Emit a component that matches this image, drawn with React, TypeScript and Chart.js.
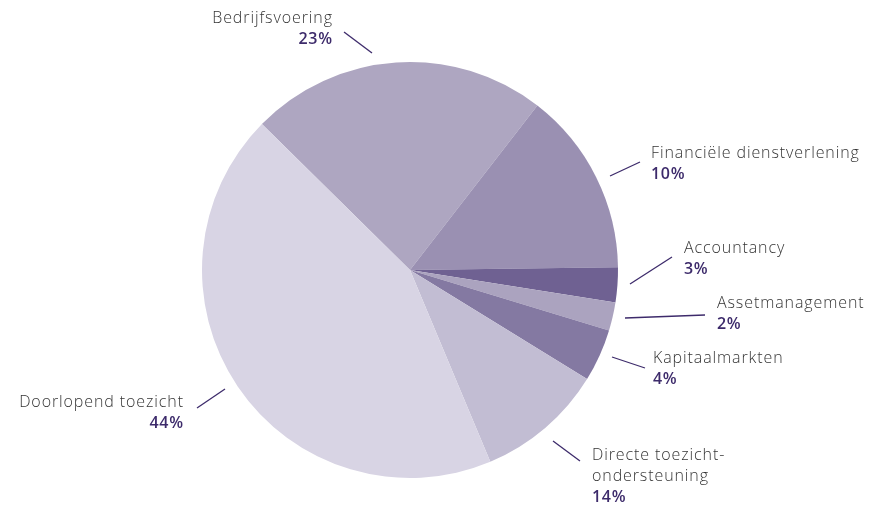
import React, { useEffect, useRef } from "react";
import { Chart, registerables } from "chart.js";

Chart.register(...registerables);

const categories: string[][] = [
  ["Bedrijfsvoering"],
  ["Financiële dienstverlening"],
  ["Accountancy"],
  ["Assetmanagement"],
  ["Kapitaalmarkten"],
  ["Directe toezicht-", "ondersteuning"],
  ["Doorlopend toezicht"],
];
const sliceValues: number[] = [23.1, 14.3, 2.7, 2.2, 4.1, 9.9, 43.7];
const percentLabels: string[] = ["23%", "10%", "3%", "2%", "4%", "14%", "44%"];
const sliceColors: string[] = [
  "#aea6c1",
  "#9a90b2",
  "#6f6192",
  "#aba3bf",
  "#8479a2",
  "#c2bdd3",
  "#d8d4e4",
];

// label layout relative to pie centre (style only)
type LabelLayout = { tx: number; ty: number; align: "left" | "right"; l: [number, number, number, number] };
const labelLayout: LabelLayout[] = [
  { tx: -78, ty: -247, align: "right", l: [-66, -238, -38, -217] },
  { tx: 241, ty: -112, align: "left", l: [200, -94, 230, -108] },
  { tx: 274, ty: -17, align: "left", l: [220, 14, 262, -13] },
  { tx: 307, ty: 38, align: "left", l: [215, 48, 295, 45] },
  { tx: 243, ty: 93, align: "left", l: [202, 87, 235, 98] },
  { tx: 182, ty: 190, align: "left", l: [143, 171, 170, 191] },
  { tx: -227, ty: 137, align: "right", l: [-213, 138, -185, 119] },
];

const labelPlugin = {
  id: "pieLabels",
  afterDraw(chart: any) {
    const meta = chart.getDatasetMeta(0);
    const ctx = chart.ctx as any;
    const lineH = 21;
    meta.data.forEach((arc: any, i: number) => {
      const cx = arc.x;
      const cy = arc.y;
      const lay = labelLayout[i];
      ctx.save();
      ctx.strokeStyle = "#3d2b6b";
      ctx.lineWidth = 1.3;
      ctx.beginPath();
      ctx.moveTo(cx + lay.l[0], cy + lay.l[1]);
      ctx.lineTo(cx + lay.l[2], cy + lay.l[3]);
      ctx.stroke();
      ctx.textAlign = lay.align;
      ctx.textBaseline = "alphabetic";
      const lines = categories[i];
      // letter spacing adds trailing space on right-aligned text; compensate
      const ls = 0.9;
      ctx.letterSpacing = ls + "px";
      ctx.font = "300 16px 'Open Sans', Lato, sans-serif";
      ctx.fillStyle = "#353535";
      const shift = lay.align === "right" ? ls : 0;
      lines.forEach((t, k) => {
        ctx.fillText(t, cx + lay.tx + shift, cy + lay.ty + k * lineH);
      });
      const ls2 = 0.7;
      ctx.letterSpacing = ls2 + "px";
      ctx.font = "600 16px 'Open Sans', Lato, sans-serif";
      ctx.fillStyle = "#3d2b6b";
      const shift2 = lay.align === "right" ? ls2 : 0;
      ctx.fillText(percentLabels[i], cx + lay.tx + shift2, cy + lay.ty + lines.length * lineH);
      ctx.restore();
    });
  },
};

export default function App() {
  const ref = useRef<HTMLCanvasElement | null>(null);
  useEffect(() => {
    if (!ref.current) return;
    const chart = new Chart(ref.current, {
      type: "pie",
      data: {
        labels: categories.map((c) => c.join(" ")),
        datasets: [
          {
            data: sliceValues,
            backgroundColor: sliceColors,
            borderWidth: 0,
          },
        ],
      },
      options: {
        animation: false,
        responsive: false,
        rotation: -45.4,
        layout: { padding: { top: 62, bottom: 27, left: 100, right: 155 } },
        plugins: {
          legend: { display: false },
          tooltip: { enabled: false },
        },
      },
      plugins: [labelPlugin],
    });
    return () => chart.destroy();
  }, []);
  return (
    <div style={{ position: "fixed", left: 0, top: 0, width: 875, height: 505, background: "#fff" }}>
      <canvas ref={ref} width={875} height={505} style={{ width: 875, height: 505 }} />
    </div>
  );
}
